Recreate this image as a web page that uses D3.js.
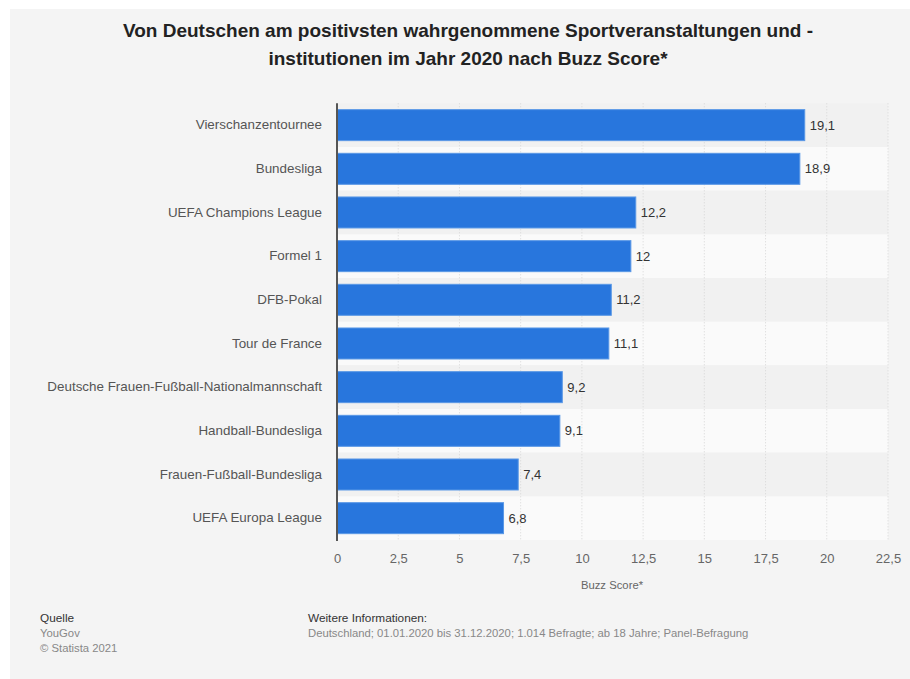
<!DOCTYPE html>
<html><head><meta charset="utf-8">
<script src="https://cdn.jsdelivr.net/npm/d3@7"></script>
<style>
html,body{margin:0;padding:0;background:#fff;}
svg{display:block;font-family:"Liberation Sans",Arial,Helvetica,sans-serif;}
</style></head>
<body>
<svg id="chart" width="910" height="679"></svg>
<script>
const categories = ["Vierschanzentournee","Bundesliga","UEFA Champions League","Formel 1","DFB-Pokal","Tour de France","Deutsche Frauen-Fußball-Nationalmannschaft","Handball-Bundesliga","Frauen-Fußball-Bundesliga","UEFA Europa League"];
const values = [19.1,18.9,12.2,12,11.2,11.1,9.2,9.1,7.4,6.8];
const ticks = [0,2.5,5,7.5,10,12.5,15,17.5,20,22.5];
const titleLines = ["Von Deutschen am positivsten wahrgenommene Sportveranstaltungen und -","institutionen im Jahr 2020 nach Buzz Score*"];

(function(){
const fmt = v => String(v).replace(".", ",");
const svg = d3.select("#chart");
svg.append("rect").attr("x",10).attr("y",9).attr("width",900).attr("height",670).attr("fill","#f4f4f4");

svg.selectAll("text.title").data(titleLines).join("text")
  .attr("class","title").attr("x",468).attr("y",(d,i)=>37+i*28)
  .attr("text-anchor","middle").attr("font-size",19).attr("font-weight","bold").attr("fill","#222").text(d=>d);

const pl=337, pr=888, pt=103.3, pb=540;
const x = d3.scaleLinear().domain([0,22.5]).range([pl,pr]);
const y = d3.scaleBand().domain(categories).range([pt,pb]).paddingInner(0).paddingOuter(0);

svg.selectAll("rect.band").data(categories).join("rect")
  .attr("class","band")
  .attr("x",pl).attr("y",d=>y(d)).attr("width",pr-pl).attr("height",y.bandwidth())
  .attr("fill",(d,i)=> i%2===0 ? "#f1f1f1" : "#fafafa");

svg.selectAll("line.grid").data(ticks.slice(1)).join("line")
  .attr("class","grid")
  .attr("x1",d=>x(d)).attr("x2",d=>x(d)).attr("y1",pt).attr("y2",pb)
  .attr("stroke","#d6d6d6").attr("stroke-width",1).attr("stroke-dasharray","1,2");

const bh = 31;
svg.selectAll("rect.bar").data(values).join("rect")
  .attr("class","bar")
  .attr("x",pl).attr("y",(d,i)=>y(categories[i])+y.bandwidth()/2-bh/2)
  .attr("width",d=>x(d)-pl).attr("height",bh)
  .attr("fill","#2876dd").attr("stroke","#5a98e6").attr("stroke-width",1);

svg.selectAll("text.val").data(values).join("text")
  .attr("class","val")
  .attr("x",d=>x(d)+5).attr("y",(d,i)=>y(categories[i])+y.bandwidth()/2+4.5)
  .attr("font-size",13).attr("fill","#333").text(d=>fmt(d));

const yAxis = d3.axisLeft(y).tickSize(0).tickPadding(15);
const gy = svg.append("g").attr("transform",`translate(${pl},0)`).call(yAxis);
gy.select(".domain").remove();
gy.selectAll("text").attr("font-size",13.4).attr("fill","#555").attr("font-family","Liberation Sans, Arial, sans-serif");

const xAxis = d3.axisBottom(x).tickValues(ticks).tickSize(0).tickPadding(14).tickFormat(fmt);
const gx = svg.append("g").attr("transform",`translate(0,${pb})`).call(xAxis);
gx.select(".domain").remove();
gx.selectAll("text").attr("font-size",13).attr("fill","#666").attr("font-family","Liberation Sans, Arial, sans-serif");

svg.append("line").attr("x1",pl).attr("x2",pl).attr("y1",pt).attr("y2",pb+1)
  .attr("stroke","#555").attr("stroke-width",2);

svg.append("text").attr("x",612).attr("y",589).attr("text-anchor","middle")
  .attr("font-size",11.3).attr("fill","#666").text("Buzz Score*");

svg.append("text").attr("x",40).attr("y",622).attr("font-size",11.8).attr("fill","#333").text("Quelle");
svg.append("text").attr("x",40).attr("y",637).attr("font-size",11.3).attr("fill","#888").text("YouGov");
svg.append("text").attr("x",40).attr("y",652).attr("font-size",11.3).attr("fill","#888").text("© Statista 2021");
svg.append("text").attr("x",308).attr("y",622).attr("font-size",11.8).attr("fill","#333").text("Weitere Informationen:");
svg.append("text").attr("x",308).attr("y",637).attr("font-size",11.3).attr("fill","#888").text("Deutschland; 01.01.2020 bis 31.12.2020; 1.014 Befragte; ab 18 Jahre; Panel-Befragung");
})();
</script>
</body></html>
